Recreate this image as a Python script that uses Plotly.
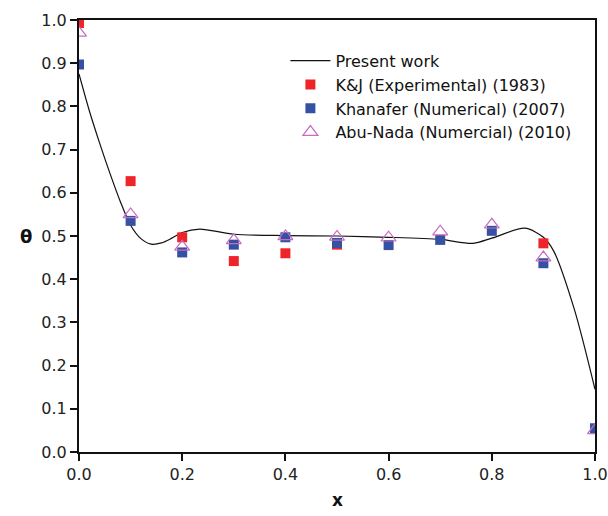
import plotly.graph_objects as go

# Present work (curve)
line_x = [0.0, 0.02, 0.04, 0.06, 0.08, 0.10, 0.12, 0.14, 0.16, 0.18, 0.20, 0.234, 0.30, 0.40, 0.50, 0.60, 0.70, 0.764, 0.80, 0.864, 0.90, 0.92, 0.96, 1.0]
line_y = [0.875, 0.79, 0.715, 0.645, 0.58, 0.525, 0.494, 0.481, 0.484, 0.495, 0.508, 0.516, 0.504, 0.501, 0.500, 0.497, 0.492, 0.483, 0.495, 0.518, 0.497, 0.465, 0.33, 0.145]

# K&J (Experimental) (1983)
kj_x = [0.0, 0.1, 0.2, 0.3, 0.4, 0.5, 0.9]
kj_y = [0.993, 0.627, 0.497, 0.442, 0.46, 0.48, 0.483]

# Khanafer (Numerical) (2007)
kh_x = [0.0, 0.1, 0.2, 0.3, 0.4, 0.5, 0.6, 0.7, 0.8, 0.9, 1.0]
kh_y = [0.897, 0.535, 0.462, 0.48, 0.497, 0.484, 0.479, 0.491, 0.512, 0.437, 0.055]

# Abu-Nada (Numercial) (2010)
an_x = [0.0, 0.1, 0.2, 0.3, 0.4, 0.5, 0.6, 0.7, 0.8, 0.9, 1.0]
an_y = [0.97, 0.55, 0.475, 0.49, 0.499, 0.498, 0.496, 0.51, 0.526, 0.45, 0.05]

FONT = "DejaVu Sans, Arial, sans-serif"

fig = go.Figure()
fig.add_trace(go.Scatter(x=line_x, y=line_y, mode="lines", name="Present work",
                         line=dict(color="#111111", width=1.2, shape="spline", smoothing=0.8)))
fig.add_trace(go.Scatter(x=kj_x, y=kj_y, mode="markers", name="K&J (Experimental) (1983)",
                         marker=dict(symbol="square", size=10, color="#ee2528")))
fig.add_trace(go.Scatter(x=kh_x, y=kh_y, mode="markers", name="Khanafer (Numerical) (2007)",
                         marker=dict(symbol="square", size=10, color="#3651a3")))
fig.add_trace(go.Scatter(x=an_x, y=an_y, mode="markers", name="Abu-Nada (Numercial) (2010)",
                         marker=dict(symbol="triangle-up-open", size=13, color="#c86cc0",
                                     line=dict(width=1.2, color="#c86cc0"))))

fig.update_layout(
    width=608, height=516,
    margin=dict(l=79, r=13, t=20, b=64, autoexpand=False),
    paper_bgcolor="white", plot_bgcolor="white",
    font=dict(family=FONT, size=16, color="#222222"),
    showlegend=True,
    legend=dict(x=0.40, y=0.945, xanchor="left", yanchor="top",
                bgcolor="rgba(0,0,0,0)", font=dict(size=16, color="#111111"),
                itemwidth=40, tracegroupgap=0),
    xaxis=dict(range=[0, 1.0], tickvals=[0, 0.2, 0.4, 0.6, 0.8, 1.0], tickformat=".1f",
               automargin=False,
               showgrid=False, zeroline=False, showline=True, linecolor="#111111", linewidth=2,
               mirror=True, ticks="outside", ticklen=7, tickwidth=2, tickcolor="#111111",
               tickfont=dict(size=16)),
    yaxis=dict(range=[0, 1.0], tickvals=[0, 0.1, 0.2, 0.3, 0.4, 0.5, 0.6, 0.7, 0.8, 0.9, 1.0],
               tickformat=".1f", automargin=False,
               showgrid=False, zeroline=False, showline=True, linecolor="#111111", linewidth=2,
               mirror=True, ticks="outside", ticklen=7, tickwidth=2, tickcolor="#111111",
               tickfont=dict(size=16)),
    annotations=[
        dict(text="<b>x</b>", xref="paper", yref="paper", x=0.5, y=-0.111, yanchor="middle",
             showarrow=False, font=dict(size=17, color="#111111")),
        dict(text="<b>θ</b>", xref="paper", yref="paper", x=-0.118, y=0.5,
             showarrow=False, font=dict(size=18, color="#111111")),
    ],
)

fig.write_html("out.html", config={"displayModeBar": False},
               post_script="document.body.style.margin='0';document.body.style.overflow='hidden';")
